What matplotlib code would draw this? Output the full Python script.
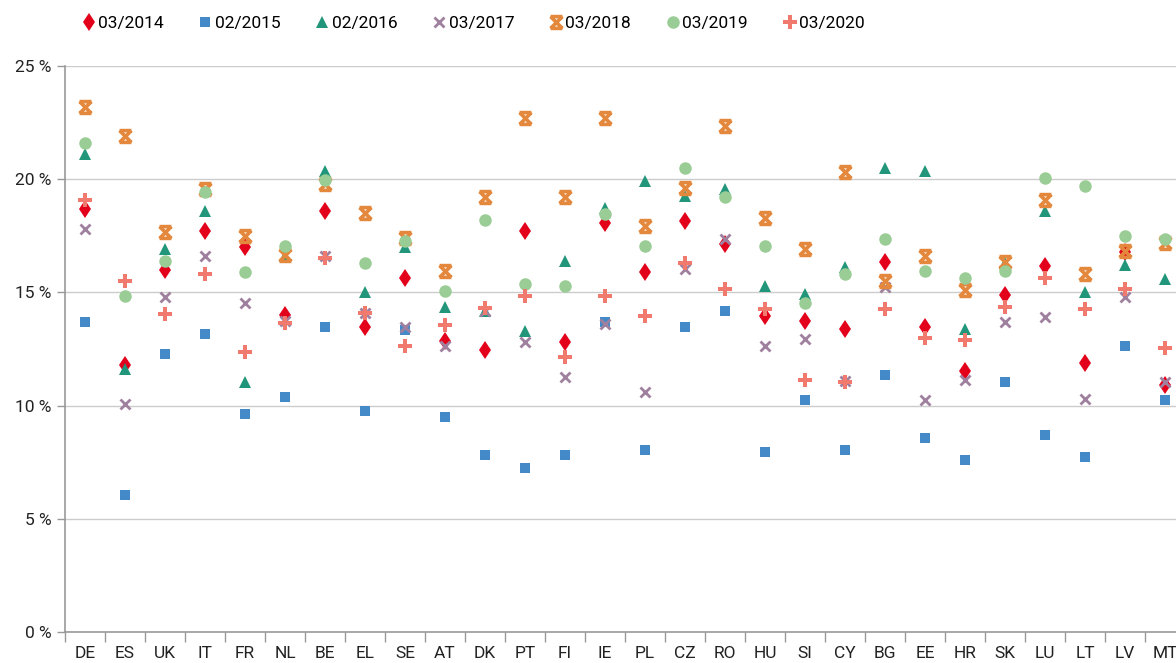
import numpy as np
import matplotlib.pyplot as plt
from matplotlib.path import Path
from matplotlib.ticker import FuncFormatter

plt.rcParams['font.family'] = ['Roboto', 'DejaVu Sans']

countries = ["DE", "ES", "UK", "IT", "FR", "NL", "BE", "EL", "SE", "AT", "DK", "PT", "FI", "IE",
             "PL", "CZ", "RO", "HU", "SI", "CY", "BG", "EE", "HR", "SK", "LU", "LT", "LV", "MT"]

v_2014_03 = [18.7, 11.8, 16.0, 17.7, 17.0, 14.0, 18.6, 13.45, 15.65, 12.85, 12.45, 17.7, 12.8, 18.05,
             15.9, 18.15, 17.15, 13.95, 13.75, 13.4, 16.35, 13.45, 11.55, 14.9, 16.15, 11.9, 16.8, 10.9]
v_2015_02 = [13.7, 6.05, 12.3, 13.15, 9.65, 10.4, 13.45, 9.75, 13.35, 9.5, 7.8, 7.25, 7.8, 13.7,
             8.05, 13.45, 14.2, 7.95, 10.25, 8.05, 11.35, 8.55, 7.6, 11.05, 8.7, 7.75, 12.65, 10.25]
v_2016_02 = [21.1, 11.6, 16.9, 18.6, 11.05, 16.6, 20.35, 15.0, 17.0, 14.35, 14.2, 13.3, 16.4, 18.75,
             19.9, 19.25, 19.55, 15.3, 14.95, 16.1, 20.5, 20.35, 13.4, 16.3, 18.6, 15.0, 16.2, 15.6]
v_2017_03 = [17.8, 10.05, 14.8, 16.6, 14.55, 13.75, 16.6, 14.1, 13.45, 12.65, 14.2, 12.8, 11.25, 13.6,
             10.6, 16.05, 17.35, 12.65, 12.95, 11.1, 15.25, 10.25, 11.15, 13.7, 13.9, 10.3, 14.8, 11.05]
v_2018_03 = [23.2, 21.9, 17.65, 19.55, 17.5, 16.65, 19.8, 18.5, 17.4, 15.95, 19.2, 22.7, 19.2, 22.7,
             17.95, 19.6, 22.35, 18.3, 16.9, 20.3, 15.5, 16.6, 15.1, 16.35, 19.1, 15.8, 16.85, 17.2]
v_2019_03 = [21.6, 14.85, 16.4, 19.45, 15.9, 17.05, 19.95, 16.3, 17.25, 15.05, 18.2, 15.35, 15.3, 18.45,
             17.05, 20.5, 19.2, 17.05, 14.55, 15.8, 17.35, 15.95, 15.65, 15.95, 20.05, 19.7, 17.5, 17.35]
v_2020_03 = [19.1, 15.5, 14.05, 15.8, 12.35, 13.65, 16.5, 14.1, 12.65, 13.55, 14.3, 14.85, 12.15, 14.85,
             13.95, 16.3, 15.15, 14.25, 11.15, 11.05, 14.25, 13.0, 12.9, 14.35, 15.65, 14.25, 15.15, 12.55]

labels = ["03/2014", "02/2015", "02/2016", "03/2017", "03/2018", "03/2019", "03/2020"]
series = [v_2014_03, v_2015_02, v_2016_02, v_2017_03, v_2018_03, v_2019_03, v_2020_03]

# hourglass-like star marker as drawn by the original tool
hourglass = Path([(-1, -1), (1, 1), (-1, 1), (1, -1), (-1, 1), (1, 1), (-1, -1), (1, -1)],
                 [Path.MOVETO, Path.LINETO, Path.MOVETO, Path.LINETO,
                  Path.MOVETO, Path.LINETO, Path.MOVETO, Path.LINETO])

styles = [
    dict(marker="d", color="#E2001A", ms=9.5, mew=0),
    dict(marker="s", color="#4489C8", ms=6.5, mew=0),
    dict(marker="^", color="#21967A", ms=8, mew=0),
    dict(marker="x", color="#A0809F", ms=6.5, mew=2),
    dict(marker=hourglass, color="#E3883C", ms=8.5, mew=2.6),
    dict(marker="o", color="#9ACD95", ms=9, mew=0),
    dict(marker="P", color="#F07A6E", ms=10, mew=0),
]

fig = plt.figure(figsize=(11.76, 6.63), dpi=100)
ax = fig.add_axes([65 / 1176, 31 / 663, 1120 / 1176, 566 / 663])

x = np.arange(len(countries))
for vals, lab, st in zip(series, labels, styles):
    ax.plot(x, vals, linestyle="none", label=lab, **st)

ax.set_xlim(-0.5, len(countries) - 0.5)
ax.set_ylim(0, 25)
ax.set_yticks(np.arange(0, 26, 5))
ax.yaxis.set_major_formatter(FuncFormatter(lambda v, p: f"{v:.0f} %"))
ax.grid(axis="y", color="#CCCCCC", linewidth=1)
ax.set_axisbelow(True)

# ticks between categories, labels under the category centres
ax.set_xticks(np.arange(-0.5, len(countries), 1.0))
ax.set_xticklabels([])
ax.set_xticks(x, minor=True)
ax.set_xticklabels(countries, minor=True)
ax.tick_params(axis="x", which="major", length=7, color="#999999", width=1)
ax.tick_params(axis="x", which="minor", length=0, pad=10, labelsize=12.5, labelcolor="#222222")
ax.tick_params(axis="y", length=6, color="#999999", width=1, labelsize=12.5, labelcolor="#222222")

for side in ["top", "right"]:
    ax.spines[side].set_visible(False)
for side in ["left", "bottom"]:
    ax.spines[side].set_color("#999999")
    ax.spines[side].set_linewidth(1.2)

fig.legend(loc="center left", bbox_to_anchor=(0.062, 0.964), ncol=7, frameon=False,
           fontsize=12.5, handletextpad=0.05, columnspacing=1.9, handlelength=1.0,
           borderaxespad=0)

fig.savefig("out.png", dpi=100)
